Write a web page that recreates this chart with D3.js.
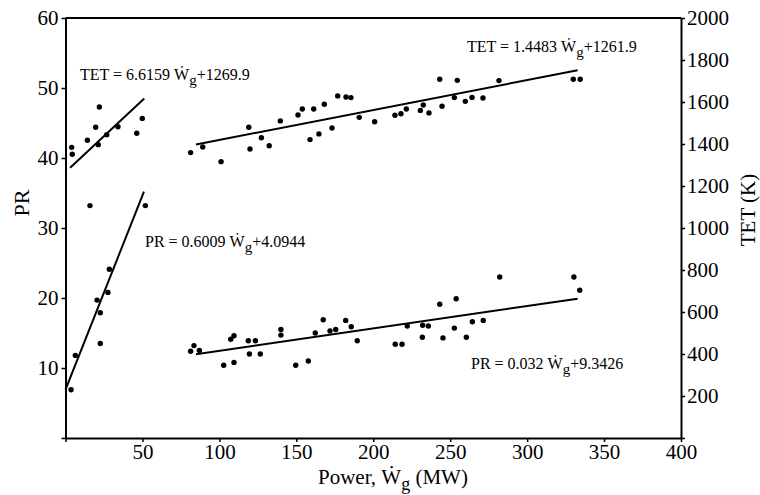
<!DOCTYPE html>
<html>
<head>
<meta charset="utf-8">
<script src="https://cdn.jsdelivr.net/npm/d3@7"></script>
<style>
  body { margin: 0; background: #fff; }
  svg, svg text { font-family: 'Liberation Serif', 'Times New Roman', Times, serif; fill: #000; }
</style>
</head>
<body>
<div id="chart"></div>
<script>
// low power group (left side)
const powerLowPR = [3.6, 6.4, 15.9, 20.5, 22.6, 22.6, 27.6, 28.5, 51.9]
const prLow = [6.9, 11.8, 33.2, 19.7, 17.9, 13.5, 20.8, 24.1, 33.2]
const powerLowTET = [4.0, 4.4, 14.2, 19.6, 22.0, 21.3, 26.8, 34.1, 46.3, 49.9]
const tetLow = [1384, 1351, 1418, 1480, 1576, 1397, 1444, 1482, 1451, 1522]

// high power group
const powerHighTET = [81.3, 89.2, 101.1, 119.1, 119.9, 127.3, 132.4, 139.6, 151.1, 153.9, 158.9, 161.3,
  164.7, 168.2, 173.2, 176.9, 182.3, 185.5, 190.9, 200.9, 214.1, 218.0, 221.5, 230.6, 232.5, 236.2,
  243.2, 244.7, 252.7, 254.6, 259.8, 264.2, 271.3, 281.7, 330.0, 334.5]
const tetHigh = [1359, 1386, 1316, 1480, 1376, 1430, 1392, 1510, 1538, 1567, 1421, 1567,
  1448, 1589, 1476, 1629, 1624, 1621, 1527, 1506, 1537, 1544, 1567, 1560, 1586, 1548,
  1708, 1580, 1621, 1703, 1603, 1622, 1619, 1702, 1708, 1708]
const powerHighPR = [81.3, 83.5, 87.0, 102.8, 107.4, 109.5, 109.5, 118.8, 119.5, 123.4, 126.6, 140.0, 140.0,
  149.6, 157.8, 162.3, 167.5, 171.9, 175.6, 182.1, 185.7, 189.6, 214.3, 218.7, 222.1, 231.9, 232.1,
  235.8, 243.2, 245.3, 252.7, 253.9, 260.5, 264.4, 271.5, 282.2, 330.4, 334.2]
const prHigh = [12.4, 13.2, 12.5, 10.4, 14.1, 14.6, 10.8, 13.9, 12.0, 13.9, 12.0, 15.5, 14.7,
  10.4, 11.0, 15.0, 16.9, 15.3, 15.5, 16.8, 15.9, 13.9, 13.4, 13.4, 16.0, 14.4, 16.1,
  16.0, 19.1, 14.3, 15.7, 19.9, 14.4, 16.6, 16.8, 23.0, 23.0, 21.1]

// trend line end points [power, value]
const fitPRLow = [[0, 6.9], [51, 35.2]]
const fitPRHigh = [[84.8, 11.96], [332.8, 19.9]]
const fitTETLow = [[3, 1287], [51.2, 1617]]
const fitTETHigh = [[84.8, 1398], [332.8, 1751]]

const xTicks = [0, 50, 100, 150, 200, 250, 300, 350, 400]
const prTicks = [0, 10, 20, 30, 40, 50, 60]
const tetTicks = [0, 200, 400, 600, 800, 1000, 1200, 1400, 1600, 1800, 2000]

const width = 760
const height = 495
const m = { l: 65.5, r: 681, t: 18, b: 438 }
const serif = "'Liberation Serif', 'Times New Roman', Times, serif"

const svg = d3.select('#chart').append('svg')
  .attr('width', width).attr('height', height)
  .style('font-family', serif)

const x = d3.scaleLinear().domain([0, 400]).range([m.l, m.r])
const yL = d3.scaleLinear().domain([0, 60]).range([m.b, m.t])
const yR = d3.scaleLinear().domain([0, 2000]).range([m.b, m.t])

const noZero = d => d === 0 ? '' : d

// axes
const gx = svg.append('g').attr('transform', 'translate(0,' + m.b + ')')
  .call(d3.axisBottom(x).tickValues(xTicks).tickFormat(noZero).tickSize(4).tickSizeOuter(0).tickPadding(2))
const gl = svg.append('g').attr('transform', 'translate(' + m.l + ',0)')
  .call(d3.axisLeft(yL).tickValues(prTicks).tickFormat(noZero).tickSize(4).tickSizeOuter(0).tickPadding(3))
const gr = svg.append('g').attr('transform', 'translate(' + m.r + ',0)')
  .call(d3.axisRight(yR).tickValues(tetTicks).tickFormat(noZero).tickSize(4).tickSizeOuter(0).tickPadding(2))

;[gx, gl, gr].forEach(g => {
  g.attr('font-family', null).attr('font-size', null)
  g.select('.domain').attr('stroke', '#000').attr('stroke-width', 2)
  g.selectAll('.tick line').attr('stroke', '#000').attr('stroke-width', 1.5)
  g.selectAll('.tick text').style('font-size', '21px').style('font-family', serif)
})

// top frame line
svg.append('line')
  .attr('x1', x(0)).attr('x2', x(400)).attr('y1', yL(60)).attr('y2', yL(60))
  .attr('stroke', '#000').attr('stroke-width', 2)

// points
function dots (xs, ys, yScale) {
  svg.append('g').selectAll('circle').data(xs).enter().append('circle')
    .attr('cx', d => x(d))
    .attr('cy', (d, i) => yScale(ys[i]))
    .attr('r', 2.7)
    .attr('fill', '#000')
}
dots(powerLowPR, prLow, yL)
dots(powerHighPR, prHigh, yL)
dots(powerLowTET, tetLow, yR)
dots(powerHighTET, tetHigh, yR)

// trend lines
function fit (pts, yScale) {
  svg.append('path')
    .attr('d', d3.line().x(d => x(d[0])).y(d => yScale(d[1]))(pts))
    .attr('fill', 'none').attr('stroke', '#000').attr('stroke-width', 2)
}
fit(fitPRLow, yL)
fit(fitPRHigh, yL)
fit(fitTETLow, yR)
fit(fitTETHigh, yR)

// equation labels
function equation (lead, tail, px, py) {
  const t = svg.append('text').attr('x', px).attr('y', py).style('font-size', '16px')
  t.append('tspan').text(lead + ' \u1E86')
  t.append('tspan').attr('dy', 5).style('font-size', '15px').text('g')
  t.append('tspan').attr('dy', -5).text(tail)
}
equation('TET = 6.6159', '+1269.9', 80, 80)
equation('TET = 1.4483', '+1261.9', 467, 52)
equation('PR = 0.6009', '+4.0944', 145, 247)
equation('PR = 0.032', '+9.3426', 471, 369)

// axis titles
const xt = svg.append('text').attr('x', 318).attr('y', 484).style('font-size', '21px')
xt.append('tspan').text('Power, \u1E86')
xt.append('tspan').attr('dy', 6).style('font-size', '18px').text('g')
xt.append('tspan').attr('dy', -6).text(' (MW)')

svg.append('text')
  .attr('transform', 'translate(29,203) rotate(-90)')
  .attr('text-anchor', 'middle').style('font-size', '22px')
  .text('PR')

svg.append('text')
  .attr('transform', 'translate(755,210) rotate(-90)')
  .attr('text-anchor', 'middle').style('font-size', '21px')
  .text('TET (K)')
</script>
</body>
</html>
